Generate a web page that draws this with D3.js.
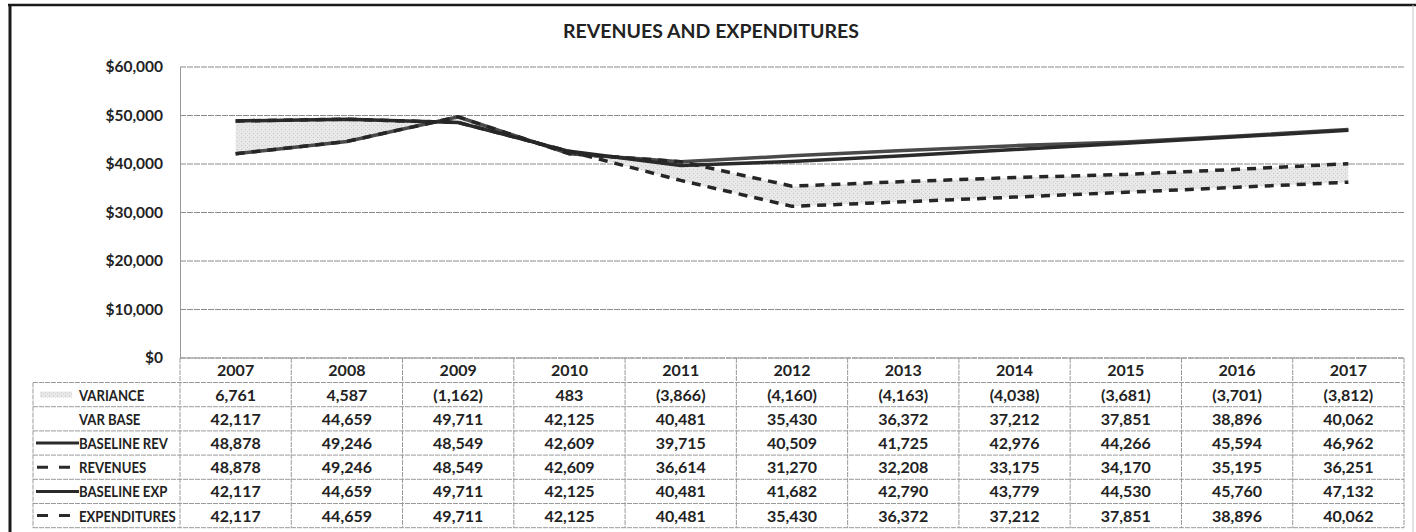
<!DOCTYPE html>
<html lang="en">
<head>
    <meta charset="UTF-8">
    <title>Revenues and Expenditures</title>
    <script src="https://d3js.org/d3.v7.min.js"></script>
    <style>
        body { margin: 0; background: #fff; }
        text { font-family: Lato, "Open Sans", sans-serif; font-weight: bold; fill: #222; }
    </style>
</head>
<body>
    <div id="chart"></div>

    <script>
        const years = ["2007", "2008", "2009", "2010", "2011", "2012", "2013", "2014", "2015", "2016", "2017"];
        const variance = [6761, 4587, -1162, 483, -3866, -4160, -4163, -4038, -3681, -3701, -3812];
        const varBase = [42117, 44659, 49711, 42125, 40481, 35430, 36372, 37212, 37851, 38896, 40062];
        const baselineRev = [48878, 49246, 48549, 42609, 39715, 40509, 41725, 42976, 44266, 45594, 46962];
        const revenues = [48878, 49246, 48549, 42609, 36614, 31270, 32208, 33175, 34170, 35195, 36251];
        const baselineExp = [42117, 44659, 49711, 42125, 40481, 41682, 42790, 43779, 44530, 45760, 47132];
        const expenditures = [42117, 44659, 49711, 42125, 40481, 35430, 36372, 37212, 37851, 38896, 40062];
        const yTicks = [0, 10000, 20000, 30000, 40000, 50000, 60000];

        const rows = [
            { name: "VARIANCE", values: variance, key: "area" },
            { name: "VAR BASE", values: varBase, key: "none" },
            { name: "BASELINE REV", values: baselineRev, key: "solid" },
            { name: "REVENUES", values: revenues, key: "dash" },
            { name: "BASELINE EXP", values: baselineExp, key: "solid" },
            { name: "EXPENDITURES", values: expenditures, key: "dash" }
        ];

        const width = 1416;
        const height = 532;
        const plot = { left: 180, right: 1404, top: 67, bottom: 358 };
        const tableLeft = 33;
        const headerH = 24.5;
        const rowH = 24.2;

        const svg = d3.select("#chart")
            .append("svg")
            .attr("width", width)
            .attr("height", height);

        // outer frame
        svg.append("line").attr("x1", 8).attr("x2", 1416).attr("y1", 5).attr("y2", 5)
            .attr("stroke", "#1a1a1a").attr("stroke-width", 2.5);
        svg.append("line").attr("x1", 10).attr("x2", 10).attr("y1", 4).attr("y2", height)
            .attr("stroke", "#1a1a1a").attr("stroke-width", 3);
        svg.append("line").attr("x1", 1413).attr("x2", 1413).attr("y1", 5).attr("y2", height)
            .attr("stroke", "#c4c4c4").attr("stroke-width", 1);

        // scales
        const xScale = d3.scaleBand()
            .domain(years)
            .range([plot.left, plot.right]);

        const yScale = d3.scaleLinear()
            .domain([0, 60000])
            .range([plot.bottom, plot.top]);

        const cx = d => xScale(d) + xScale.bandwidth() / 2;

        // gridlines
        svg.append("g")
            .selectAll("line")
            .data(yTicks)
            .enter()
            .append("line")
            .attr("x1", plot.left)
            .attr("x2", plot.right)
            .attr("y1", d => yScale(d))
            .attr("y2", d => yScale(d))
            .attr("stroke", "#8a8a8a")
            .attr("stroke-width", 1)
            .attr("stroke-dasharray", "6,1");

        // y axis
        const yAxis = svg.append("g")
            .attr("transform", `translate(${plot.left},0)`)
            .call(d3.axisLeft(yScale).tickValues(yTicks).tickSize(0).tickPadding(17)
                .tickFormat(d => "$" + d3.format(",")(d)));
        yAxis.select(".domain").attr("stroke", "#999");
        yAxis.selectAll("text")
            .style("font-family", "Lato, sans-serif")
            .style("font-weight", "bold")
            .style("font-size", "15.5px")
            .attr("fill", "#222");

        // variance band, stacked on top of the var base
        const idx = d3.range(years.length);
        const band = d3.area()
            .x(i => cx(years[i]))
            .y0(i => yScale(varBase[i]))
            .y1(i => yScale(varBase[i] + variance[i]));

        const defs = svg.append("defs");
        const pat = defs.append("pattern")
            .attr("id", "speckle")
            .attr("width", 4).attr("height", 4)
            .attr("patternUnits", "userSpaceOnUse");
        pat.append("rect").attr("width", 4).attr("height", 4).attr("fill", "#e8e8e8");
        pat.append("rect").attr("x", 1).attr("y", 1).attr("width", 1).attr("height", 1).attr("fill", "#c4c4c4");
        pat.append("rect").attr("x", 3).attr("y", 3).attr("width", 1).attr("height", 1).attr("fill", "#d4d4d4");

        svg.append("path")
            .datum(idx)
            .attr("d", band)
            .attr("fill", "url(#speckle)");

        // lines
        const line = d3.line()
            .x((d, i) => cx(years[i]))
            .y(d => yScale(d));

        const lineSeries = [
            { values: baselineExp, dash: null, color: "#4a4a4a" },
            { values: baselineRev, dash: null, color: "#2a2a2a" },
            { values: expenditures, dash: "9,7", color: "#262626" },
            { values: revenues, dash: "9,7", color: "#262626" }
        ];

        svg.append("g")
            .selectAll("path")
            .data(lineSeries)
            .enter()
            .append("path")
            .attr("d", d => line(d.values))
            .attr("fill", "none")
            .attr("stroke", d => d.color)
            .attr("stroke-width", 3.5)
            .attr("stroke-dasharray", d => d.dash);

        // data table
        const tableTop = plot.bottom;
        const bodyTop = tableTop + headerH;
        const tableBottom = bodyTop + rowH * rows.length;
        const grid = svg.append("g")
            .attr("stroke", "#9a9a9a")
            .attr("stroke-width", 1)
            .attr("stroke-dasharray", "5,1");

        // vertical lines between years
        grid.selectAll(".v")
            .data(years.concat(["end"]))
            .enter()
            .append("line")
            .attr("x1", (d, i) => i < years.length ? xScale(d) : plot.right)
            .attr("x2", (d, i) => i < years.length ? xScale(d) : plot.right)
            .attr("y1", tableTop)
            .attr("y2", tableBottom);
        grid.append("line")
            .attr("x1", tableLeft).attr("x2", tableLeft)
            .attr("y1", bodyTop).attr("y2", tableBottom);
        grid.append("line")
            .attr("x1", plot.left).attr("x2", plot.right)
            .attr("y1", tableTop).attr("y2", tableTop);
        grid.selectAll(".h")
            .data(d3.range(rows.length + 1))
            .enter()
            .append("line")
            .attr("x1", tableLeft)
            .attr("x2", plot.right)
            .attr("y1", i => bodyTop + i * rowH)
            .attr("y2", i => bodyTop + i * rowH);

        // year headers
        svg.append("g")
            .selectAll("text")
            .data(years)
            .enter()
            .append("text")
            .attr("x", d => cx(d))
            .attr("y", tableTop + headerH / 2 + 6)
            .attr("text-anchor", "middle")
            .style("font-size", "16px")
            .text(d => d);

        const fmt = v => v < 0 ? "(" + d3.format(",")(-v) + ")" : d3.format(",")(v);

        const rowG = svg.append("g")
            .selectAll("g")
            .data(rows)
            .enter()
            .append("g")
            .attr("transform", (d, i) => `translate(0,${bodyTop + i * rowH + rowH / 2})`);

        rowG.selectAll("text.val")
            .data(d => d.values)
            .enter()
            .append("text")
            .attr("class", "val")
            .attr("x", (d, i) => cx(years[i]))
            .attr("y", 6)
            .attr("text-anchor", "middle")
            .style("font-size", "16px")
            .text(fmt);

        // row labels, squeezed a little like the narrow spreadsheet font
        rowG.append("text")
            .attr("transform", "translate(79,6) scale(0.82,1)")
            .style("font-size", "16px")
            .text(d => d.name);

        // legend keys
        rowG.filter(d => d.key === "solid")
            .append("line")
            .attr("x1", 36).attr("x2", 79).attr("y1", 0).attr("y2", 0)
            .attr("stroke", "#2a2a2a").attr("stroke-width", 3);
        rowG.filter(d => d.key === "dash")
            .append("line")
            .attr("x1", 37).attr("x2", 70).attr("y1", 0).attr("y2", 0)
            .attr("stroke", "#2a2a2a").attr("stroke-width", 3)
            .attr("stroke-dasharray", "11,11");
        rowG.filter(d => d.key === "area")
            .append("rect")
            .attr("x", 40).attr("y", -3).attr("width", 32).attr("height", 6)
            .attr("fill", "url(#speckle)");

        // title
        svg.append("text")
            .attr("x", 711)
            .attr("y", 38)
            .attr("text-anchor", "middle")
            .style("font-size", "19.5px")
            .text("REVENUES AND EXPENDITURES");
    </script>
</body>
</html>
